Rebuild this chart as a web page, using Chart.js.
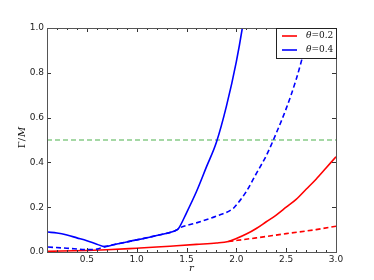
<!DOCTYPE html>
<html>
<head>
<meta charset="utf-8">
<script src="https://cdnjs.cloudflare.com/ajax/libs/Chart.js/4.4.1/chart.umd.min.js"></script>
<style>
  html,body{margin:0;padding:0;background:#fff;}
  #wrap{width:374px;height:280px;}
</style>
</head>
<body>
<div id="wrap"><canvas id="c" width="374" height="280"></canvas></div>
<script>
// Gamma/M against r. Solid = full, dashed = approx.
const R_BLUE_SOLID = [0.11, 0.2, 0.3, 0.4, 0.5, 0.6, 0.68, 0.8, 1.0, 1.2, 1.4, 1.42, 1.5, 1.6, 1.7, 1.8, 1.9, 2.0, 2.06, 2.1];
const G_BLUE_SOLID = [0.089, 0.085, 0.076, 0.063, 0.05, 0.035, 0.024, 0.036, 0.054, 0.074, 0.098, 0.105, 0.175, 0.27, 0.38, 0.49, 0.65, 0.85, 1.0, 1.12];
const R_BLUE_DASH  = [0.11, 0.3, 0.5, 0.6, 0.68, 0.8, 1.0, 1.2, 1.4, 1.42, 1.6, 1.8, 1.97, 2.0, 2.1, 2.2, 2.3, 2.4, 2.5, 2.6, 2.7, 2.8];
const G_BLUE_DASH  = [0.022, 0.017, 0.011, 0.013, 0.024, 0.036, 0.054, 0.074, 0.098, 0.105, 0.13, 0.16, 0.195, 0.21, 0.27, 0.35, 0.43, 0.53, 0.64, 0.77, 0.93, 1.1];
const R_RED_SOLID  = [0.11, 0.5, 0.7, 1.0, 1.2, 1.4, 1.6, 1.8, 1.92, 2.0, 2.1, 2.2, 2.3, 2.4, 2.5, 2.6, 2.7, 2.8, 2.9, 3.0];
const G_RED_SOLID  = [0.003, 0.007, 0.01, 0.017, 0.022, 0.028, 0.034, 0.04, 0.047, 0.06, 0.08, 0.105, 0.135, 0.165, 0.2, 0.235, 0.28, 0.325, 0.375, 0.425];
const R_RED_DASH   = [1.92, 2.2, 2.5, 2.8, 3.0];
const G_RED_DASH   = [0.047, 0.063, 0.082, 0.1, 0.115];
const LIMIT = 0.5;                       // green reference level
const X_TICKS = [0.5, 1.0, 1.5, 2.0, 2.5, 3.0];
const Y_TICKS = [0.0, 0.2, 0.4, 0.6, 0.8, 1.0];
const LEGEND = [['θ', '=0.2', '#ff0000'], ['θ', '=0.4', '#0000ff']];

const pts = (xs, ys) => xs.map((x, i) => ({x, y: ys[i]}));
const line = (data, color, dash) => ({data, borderColor: color, borderWidth: 1.6,
  borderDash: dash ? [5, 3] : [], pointRadius: 0, cubicInterpolationMode: 'monotone', fill: false});

// inward ticks on all four sides, frame, axis titles, legend inside the plot
const decor = {
  id: 'decor',
  afterDatasetsDraw(chart) {
    const {ctx, chartArea: a, scales: {x, y}} = chart;
    ctx.save();
    ctx.strokeStyle = '#333'; ctx.lineWidth = 1;
    for (let v = 0.1; v <= 3.0001; v += 0.1) {
      const px = Math.round(x.getPixelForValue(v)) + 0.5;
      const major = X_TICKS.some(t => Math.abs(t - v) < 1e-6);
      const len = major ? 4 : 2;
      ctx.beginPath();
      ctx.moveTo(px, a.bottom); ctx.lineTo(px, a.bottom - len);
      ctx.moveTo(px, a.top); ctx.lineTo(px, a.top + len);
      ctx.stroke();
    }
    Y_TICKS.forEach(v => {
      const py = Math.round(y.getPixelForValue(v)) + 0.5;
      ctx.beginPath();
      ctx.moveTo(a.left, py); ctx.lineTo(a.left + 4, py);
      ctx.moveTo(a.right, py); ctx.lineTo(a.right - 4, py);
      ctx.stroke();
    });
    ctx.strokeStyle = '#555';
    ctx.strokeRect(Math.round(a.left) + 0.5, Math.round(a.top) + 0.5,
                   Math.round(a.right - a.left), Math.round(a.bottom - a.top));

    // legend
    const lx = 276.5, ly = Math.round(a.top) + 0.5, lw = Math.round(a.right) - 276, lh = 30;
    ctx.fillStyle = '#fff'; ctx.fillRect(lx, ly, lw, lh);
    ctx.strokeStyle = '#222'; ctx.lineWidth = 1; ctx.strokeRect(lx, ly, lw, lh);
    LEGEND.forEach(([sym, rest, col], i) => {
      const yy = ly + 7.5 + i * 14;
      ctx.strokeStyle = col; ctx.lineWidth = 1.6;
      ctx.beginPath(); ctx.moveTo(282, yy); ctx.lineTo(297, yy); ctx.stroke();
      ctx.fillStyle = '#111'; ctx.textBaseline = 'middle';
      ctx.font = 'italic 9px "DejaVu Serif"';
      ctx.fillText(sym, 306, yy);
      const w = ctx.measureText(sym).width;
      ctx.font = '9px "DejaVu Serif"';
      ctx.fillText(rest, 306 + w, yy);
    });

    // axis titles
    ctx.fillStyle = '#111';
    ctx.font = 'italic 10px "DejaVu Serif"';
    ctx.textAlign = 'center'; ctx.textBaseline = 'middle';
    ctx.fillText('r', (a.left + a.right) / 2, 268);
    ctx.translate(22, (a.top + a.bottom) / 2);
    ctx.rotate(-Math.PI / 2);
    ctx.font = '10px "DejaVu Serif"';
    ctx.fillText('Γ/', -3, 0);
    ctx.font = 'italic 10px "DejaVu Serif"';
    ctx.fillText('M', 8, 0);
    ctx.restore();
  }
};

new Chart(document.getElementById('c'), {
  type: 'line',
  data: {datasets: [
    line(pts(R_BLUE_DASH, G_BLUE_DASH), '#0000ff', true),
    line(pts(R_RED_DASH, G_RED_DASH), '#ff0000', true),
    line(pts(R_RED_SOLID, G_RED_SOLID), '#ff0000', false),
    line(pts(R_BLUE_SOLID, G_BLUE_SOLID), '#0000ff', false),
    {...line(pts([0.1, 3.0], [LIMIT, LIMIT]), '#88cc88', true), cubicInterpolationMode: 'default', tension: 0},
  ]},
  options: {
    responsive: false, animation: false, devicePixelRatio: 1,
    layout: {padding: {left: 0, right: 38, top: 28, bottom: 0}},
    plugins: {legend: {display: false}, tooltip: {enabled: false}},
    scales: {
      x: {type: 'linear', min: 0.1, max: 3.0,
        afterBuildTicks: s => { s.ticks = X_TICKS.map(v => ({value: v})); },
        afterFit: s => { s.height = 28; },
        grid: {display: false, drawTicks: false, tickLength: 0}, border: {display: false},
        ticks: {color: '#222', font: {family: 'DejaVu Sans', size: 9}, padding: 2,
          maxRotation: 0, callback: v => v.toFixed(1)}},
      y: {min: 0, max: 1.0,
        afterBuildTicks: s => { s.ticks = Y_TICKS.map(v => ({value: v})); },
        afterFit: s => { s.width = 47; },
        grid: {display: false, drawTicks: false, tickLength: 0}, border: {display: false},
        ticks: {color: '#222', font: {family: 'DejaVu Sans', size: 9}, padding: 3,
          callback: v => v.toFixed(1)}},
    },
  },
  plugins: [decor],
});
</script>
</body>
</html>
